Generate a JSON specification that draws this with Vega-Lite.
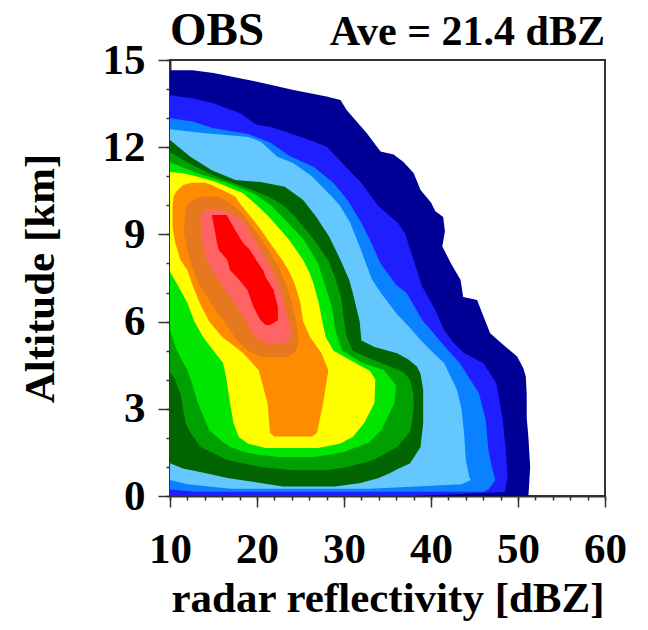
{
  "$schema": "https://vega.github.io/schema/vega-lite/v6.json",
  "width": 435,
  "height": 436,
  "autosize": "none",
  "padding": {"left": 170, "top": 60, "right": 43, "bottom": 134},
  "background": "white",
  "config": {
    "view": {"stroke": "#333333", "strokeWidth": 2},
    "axis": {
      "domainColor": "#333333", "domainWidth": 2,
      "tickColor": "#333333", "tickWidth": 1.5,
      "grid": false, "zindex": 1,
      "labelFont": "Liberation Serif", "labelFontWeight": "bold", "labelFontSize": 43, "labelColor": "black",
      "titleFont": "Liberation Serif", "titleFontWeight": "bold", "titleFontSize": 43, "titleColor": "black",
      "labelOverlap": false, "labelFlush": false
    }
  },
  "resolve": {"axis": {"x": "independent", "y": "independent"}},
  "datasets": {
    "cfad": [
      {"level": "c01", "alt": 0, "lo": 10, "hi": 51.2},
      {"level": "c01", "alt": 0.5, "lo": 10, "hi": 51.3},
      {"level": "c01", "alt": 1.0, "lo": 10, "hi": 51.4},
      {"level": "c01", "alt": 1.5, "lo": 10, "hi": 51.3},
      {"level": "c01", "alt": 2.0, "lo": 10, "hi": 51.2},
      {"level": "c01", "alt": 2.7, "lo": 10, "hi": 51.0},
      {"level": "c01", "alt": 3.5, "lo": 10, "hi": 51.0},
      {"level": "c01", "alt": 4.1, "lo": 10, "hi": 50.9},
      {"level": "c01", "alt": 4.4, "lo": 10, "hi": 50.6},
      {"level": "c01", "alt": 4.8, "lo": 10, "hi": 49.9},
      {"level": "c01", "alt": 5.2, "lo": 10, "hi": 48.3},
      {"level": "c01", "alt": 5.6, "lo": 10, "hi": 46.8},
      {"level": "c01", "alt": 6.2, "lo": 10, "hi": 46.0},
      {"level": "c01", "alt": 6.74, "lo": 10, "hi": 45.3},
      {"level": "c01", "alt": 6.85, "lo": 10, "hi": 43.7},
      {"level": "c01", "alt": 7.43, "lo": 10, "hi": 43.4},
      {"level": "c01", "alt": 8.0, "lo": 10, "hi": 42.3},
      {"level": "c01", "alt": 8.58, "lo": 10, "hi": 41.3},
      {"level": "c01", "alt": 9.1, "lo": 10, "hi": 41.6},
      {"level": "c01", "alt": 9.6, "lo": 10, "hi": 41.4},
      {"level": "c01", "alt": 9.8, "lo": 10, "hi": 40.5},
      {"level": "c01", "alt": 10.1, "lo": 10, "hi": 40.0},
      {"level": "c01", "alt": 10.53, "lo": 10, "hi": 38.8},
      {"level": "c01", "alt": 11.11, "lo": 10, "hi": 38.0},
      {"level": "c01", "alt": 11.5, "lo": 10, "hi": 36.8},
      {"level": "c01", "alt": 11.75, "lo": 10, "hi": 35.7},
      {"level": "c01", "alt": 11.85, "lo": 10, "hi": 34.2},
      {"level": "c01", "alt": 12.49, "lo": 10, "hi": 32.6},
      {"level": "c01", "alt": 13.28, "lo": 10, "hi": 30.3},
      {"level": "c01", "alt": 13.62, "lo": 10, "hi": 29.6},
      {"level": "c01", "alt": 13.74, "lo": 10, "hi": 28.0},
      {"level": "c01", "alt": 13.97, "lo": 10, "hi": 24.2},
      {"level": "c01", "alt": 14.25, "lo": 10, "hi": 20.0},
      {"level": "c01", "alt": 14.55, "lo": 10, "hi": 15.0},
      {"level": "c01", "alt": 14.65, "lo": 10, "hi": 12.6},

      {"level": "c02", "alt": 0, "lo": 10, "hi": 38.0},
      {"level": "c02", "alt": 0.14, "lo": 10, "hi": 48.5},
      {"level": "c02", "alt": 0.65, "lo": 10, "hi": 48.8},
      {"level": "c02", "alt": 1.58, "lo": 10, "hi": 48.6},
      {"level": "c02", "alt": 2.72, "lo": 10, "hi": 48.2},
      {"level": "c02", "alt": 3.89, "lo": 10, "hi": 47.5},
      {"level": "c02", "alt": 4.58, "lo": 10, "hi": 46.0},
      {"level": "c02", "alt": 4.92, "lo": 10, "hi": 43.8},
      {"level": "c02", "alt": 5.3, "lo": 10, "hi": 42.5},
      {"level": "c02", "alt": 5.71, "lo": 10, "hi": 41.5},
      {"level": "c02", "alt": 6.4, "lo": 10, "hi": 40.5},
      {"level": "c02", "alt": 7.2, "lo": 10, "hi": 39.0},
      {"level": "c02", "alt": 8.12, "lo": 10, "hi": 38.0},
      {"level": "c02", "alt": 9.05, "lo": 10, "hi": 37.0},
      {"level": "c02", "alt": 9.39, "lo": 10, "hi": 36.2},
      {"level": "c02", "alt": 9.96, "lo": 10, "hi": 34.0},
      {"level": "c02", "alt": 10.77, "lo": 10, "hi": 32.0},
      {"level": "c02", "alt": 11.33, "lo": 10, "hi": 30.2},
      {"level": "c02", "alt": 12.02, "lo": 10, "hi": 28.0},
      {"level": "c02", "alt": 12.36, "lo": 10, "hi": 25.0},
      {"level": "c02", "alt": 12.7, "lo": 10, "hi": 21.5},
      {"level": "c02", "alt": 12.76, "lo": 10, "hi": 20.0},
      {"level": "c02", "alt": 13.17, "lo": 10, "hi": 18.1},
      {"level": "c02", "alt": 13.52, "lo": 10, "hi": 14.9},
      {"level": "c02", "alt": 13.68, "lo": 10, "hi": 12.6},
      {"level": "c02", "alt": 13.79, "lo": 10, "hi": 10.0},

      {"level": "c03", "alt": 0.15, "lo": 13, "hi": 46.0},
      {"level": "c03", "alt": 0.22, "lo": 10, "hi": 46.6},
      {"level": "c03", "alt": 0.55, "lo": 10, "hi": 47.4},
      {"level": "c03", "alt": 1.0, "lo": 10, "hi": 47.0},
      {"level": "c03", "alt": 1.58, "lo": 10, "hi": 46.6},
      {"level": "c03", "alt": 2.61, "lo": 10, "hi": 46.3},
      {"level": "c03", "alt": 3.54, "lo": 10, "hi": 45.5},
      {"level": "c03", "alt": 4.58, "lo": 10, "hi": 43.3},
      {"level": "c03", "alt": 5.0, "lo": 10, "hi": 42.0},
      {"level": "c03", "alt": 5.6, "lo": 10, "hi": 40.3},
      {"level": "c03", "alt": 6.05, "lo": 10, "hi": 39.0},
      {"level": "c03", "alt": 6.98, "lo": 10, "hi": 37.2},
      {"level": "c03", "alt": 7.26, "lo": 10, "hi": 36.0},
      {"level": "c03", "alt": 8.0, "lo": 10, "hi": 34.2},
      {"level": "c03", "alt": 8.8, "lo": 10, "hi": 33.0},
      {"level": "c03", "alt": 9.39, "lo": 10, "hi": 32.0},
      {"level": "c03", "alt": 10.18, "lo": 10, "hi": 30.4},
      {"level": "c03", "alt": 10.77, "lo": 10, "hi": 28.8},
      {"level": "c03", "alt": 11.33, "lo": 10, "hi": 26.5},
      {"level": "c03", "alt": 11.69, "lo": 10, "hi": 23.8},
      {"level": "c03", "alt": 12.16, "lo": 10, "hi": 21.5},
      {"level": "c03", "alt": 12.45, "lo": 10, "hi": 19.0},
      {"level": "c03", "alt": 12.66, "lo": 10, "hi": 14.9},
      {"level": "c03", "alt": 12.88, "lo": 10, "hi": 12.6},
      {"level": "c03", "alt": 13.0, "lo": 10, "hi": 10.0},

      {"level": "c04", "alt": 0.25, "lo": 17, "hi": 33.0},
      {"level": "c04", "alt": 0.4, "lo": 12, "hi": 43.5},
      {"level": "c04", "alt": 0.55, "lo": 10, "hi": 44.6},
      {"level": "c04", "alt": 0.65, "lo": 10, "hi": 44.4},
      {"level": "c04", "alt": 1.24, "lo": 10, "hi": 44.0},
      {"level": "c04", "alt": 2.17, "lo": 10, "hi": 43.8},
      {"level": "c04", "alt": 3.0, "lo": 10, "hi": 43.5},
      {"level": "c04", "alt": 3.65, "lo": 10, "hi": 43.0},
      {"level": "c04", "alt": 4.58, "lo": 10, "hi": 41.5},
      {"level": "c04", "alt": 5.0, "lo": 10, "hi": 40.0},
      {"level": "c04", "alt": 5.37, "lo": 10, "hi": 38.8},
      {"level": "c04", "alt": 5.81, "lo": 10, "hi": 37.5},
      {"level": "c04", "alt": 6.29, "lo": 10, "hi": 36.0},
      {"level": "c04", "alt": 7.0, "lo": 10, "hi": 34.2},
      {"level": "c04", "alt": 7.46, "lo": 10, "hi": 33.2},
      {"level": "c04", "alt": 8.5, "lo": 10, "hi": 31.9},
      {"level": "c04", "alt": 9.41, "lo": 10, "hi": 30.7},
      {"level": "c04", "alt": 10.0, "lo": 10, "hi": 29.5},
      {"level": "c04", "alt": 10.33, "lo": 10, "hi": 28.5},
      {"level": "c04", "alt": 11.0, "lo": 10, "hi": 26.3},
      {"level": "c04", "alt": 11.45, "lo": 10, "hi": 24.2},
      {"level": "c04", "alt": 11.68, "lo": 10, "hi": 22.3},
      {"level": "c04", "alt": 12.2, "lo": 10, "hi": 20.4},
      {"level": "c04", "alt": 12.35, "lo": 10, "hi": 19.0},
      {"level": "c04", "alt": 12.5, "lo": 10, "hi": 13.5},
      {"level": "c04", "alt": 12.62, "lo": 10, "hi": 10.0},

      {"level": "c05", "alt": 0.33, "lo": 23.0, "hi": 29.0},
      {"level": "c05", "alt": 0.45, "lo": 20.4, "hi": 31.9},
      {"level": "c05", "alt": 0.62, "lo": 16.6, "hi": 34.0},
      {"level": "c05", "alt": 0.79, "lo": 14.0, "hi": 35.3},
      {"level": "c05", "alt": 0.95, "lo": 11.5, "hi": 36.3},
      {"level": "c05", "alt": 1.13, "lo": 10, "hi": 37.6},
      {"level": "c05", "alt": 1.69, "lo": 10, "hi": 38.8},
      {"level": "c05", "alt": 2.51, "lo": 10, "hi": 39.1},
      {"level": "c05", "alt": 3.65, "lo": 10, "hi": 39.1},
      {"level": "c05", "alt": 4.2, "lo": 10, "hi": 38.8},
      {"level": "c05", "alt": 4.45, "lo": 10, "hi": 38.4},
      {"level": "c05", "alt": 4.7, "lo": 10, "hi": 37.4},
      {"level": "c05", "alt": 4.91, "lo": 10, "hi": 36.1},
      {"level": "c05", "alt": 5.13, "lo": 10, "hi": 33.5},
      {"level": "c05", "alt": 5.35, "lo": 10, "hi": 32.0},
      {"level": "c05", "alt": 6.0, "lo": 10, "hi": 31.8},
      {"level": "c05", "alt": 7.0, "lo": 10, "hi": 31.0},
      {"level": "c05", "alt": 7.43, "lo": 10, "hi": 30.6},
      {"level": "c05", "alt": 8.12, "lo": 10, "hi": 29.6},
      {"level": "c05", "alt": 8.92, "lo": 10, "hi": 28.3},
      {"level": "c05", "alt": 9.61, "lo": 10, "hi": 26.8},
      {"level": "c05", "alt": 10.18, "lo": 10, "hi": 25.3},
      {"level": "c05", "alt": 10.64, "lo": 10, "hi": 23.2},
      {"level": "c05", "alt": 10.8, "lo": 10, "hi": 20.4},
      {"level": "c05", "alt": 10.87, "lo": 10, "hi": 17.5},
      {"level": "c05", "alt": 11.21, "lo": 10, "hi": 14.8},
      {"level": "c05", "alt": 11.68, "lo": 10, "hi": 12.3},
      {"level": "c05", "alt": 12.25, "lo": 10, "hi": 10.0},

      {"level": "c06", "alt": 0.89, "lo": 24.2, "hi": 28.1},
      {"level": "c06", "alt": 1.0, "lo": 20.4, "hi": 30.4},
      {"level": "c06", "alt": 1.24, "lo": 16.6, "hi": 33.4},
      {"level": "c06", "alt": 1.69, "lo": 13.5, "hi": 36.1},
      {"level": "c06", "alt": 2.2, "lo": 12.3, "hi": 37.6},
      {"level": "c06", "alt": 2.5, "lo": 11.8, "hi": 37.8},
      {"level": "c06", "alt": 3.0, "lo": 11.5, "hi": 38.0},
      {"level": "c06", "alt": 3.5, "lo": 11.2, "hi": 38.0},
      {"level": "c06", "alt": 4.0, "lo": 10.6, "hi": 37.6},
      {"level": "c06", "alt": 4.27, "lo": 10, "hi": 36.8},
      {"level": "c06", "alt": 4.5, "lo": 10, "hi": 35.0},
      {"level": "c06", "alt": 4.68, "lo": 10, "hi": 33.4},
      {"level": "c06", "alt": 5.0, "lo": 10, "hi": 31.0},
      {"level": "c06", "alt": 5.5, "lo": 10, "hi": 30.3},
      {"level": "c06", "alt": 6.0, "lo": 10, "hi": 30.0},
      {"level": "c06", "alt": 6.8, "lo": 10, "hi": 29.7},
      {"level": "c06", "alt": 7.5, "lo": 10, "hi": 29.0},
      {"level": "c06", "alt": 8.1, "lo": 10, "hi": 28.2},
      {"level": "c06", "alt": 8.8, "lo": 10, "hi": 26.6},
      {"level": "c06", "alt": 9.6, "lo": 10, "hi": 24.4},
      {"level": "c06", "alt": 10.0, "lo": 10, "hi": 23.0},
      {"level": "c06", "alt": 10.3, "lo": 10, "hi": 21.3},
      {"level": "c06", "alt": 10.64, "lo": 10, "hi": 18.5},
      {"level": "c06", "alt": 10.96, "lo": 10, "hi": 15.5},
      {"level": "c06", "alt": 11.39, "lo": 10, "hi": 12.6},
      {"level": "c06", "alt": 11.83, "lo": 10, "hi": 10.0},

      {"level": "c07", "alt": 1.34, "lo": 22.5, "hi": 26.5},
      {"level": "c07", "alt": 1.41, "lo": 20.4, "hi": 28.1},
      {"level": "c07", "alt": 1.51, "lo": 18.5, "hi": 30.0},
      {"level": "c07", "alt": 1.69, "lo": 17.0, "hi": 31.5},
      {"level": "c07", "alt": 1.82, "lo": 16.2, "hi": 32.8},
      {"level": "c07", "alt": 2.27, "lo": 14.5, "hi": 34.3},
      {"level": "c07", "alt": 3.2, "lo": 13.2, "hi": 35.8},
      {"level": "c07", "alt": 3.8, "lo": 12.6, "hi": 36.0},
      {"level": "c07", "alt": 4.33, "lo": 12.0, "hi": 34.6},
      {"level": "c07", "alt": 4.6, "lo": 11.5, "hi": 32.0},
      {"level": "c07", "alt": 5.0, "lo": 10.8, "hi": 29.8},
      {"level": "c07", "alt": 5.71, "lo": 10, "hi": 29.0},
      {"level": "c07", "alt": 6.5, "lo": 10, "hi": 28.6},
      {"level": "c07", "alt": 7.09, "lo": 10, "hi": 28.0},
      {"level": "c07", "alt": 8.02, "lo": 10, "hi": 27.0},
      {"level": "c07", "alt": 8.81, "lo": 10, "hi": 25.4},
      {"level": "c07", "alt": 9.49, "lo": 10, "hi": 23.3},
      {"level": "c07", "alt": 10.0, "lo": 10, "hi": 21.6},
      {"level": "c07", "alt": 10.42, "lo": 10, "hi": 19.6},
      {"level": "c07", "alt": 10.8, "lo": 10, "hi": 16.3},
      {"level": "c07", "alt": 11.1, "lo": 10, "hi": 13.2},
      {"level": "c07", "alt": 11.3, "lo": 10, "hi": 11.5},
      {"level": "c07", "alt": 11.49, "lo": 10, "hi": 10.0},

      {"level": "c08", "alt": 1.65, "lo": 21.0, "hi": 27.0},
      {"level": "c08", "alt": 1.8, "lo": 19.0, "hi": 29.5},
      {"level": "c08", "alt": 2.03, "lo": 17.9, "hi": 31.0},
      {"level": "c08", "alt": 2.5, "lo": 17.3, "hi": 32.3},
      {"level": "c08", "alt": 3.2, "lo": 16.9, "hi": 33.5},
      {"level": "c08", "alt": 4.0, "lo": 16.5, "hi": 33.6},
      {"level": "c08", "alt": 4.3, "lo": 16.3, "hi": 33.0},
      {"level": "c08", "alt": 4.58, "lo": 16.1, "hi": 31.3},
      {"level": "c08", "alt": 5.0, "lo": 15.0, "hi": 28.8},
      {"level": "c08", "alt": 5.47, "lo": 13.8, "hi": 27.9},
      {"level": "c08", "alt": 6.0, "lo": 12.8, "hi": 27.5},
      {"level": "c08", "alt": 6.64, "lo": 12.0, "hi": 27.1},
      {"level": "c08", "alt": 7.3, "lo": 10.8, "hi": 26.5},
      {"level": "c08", "alt": 7.71, "lo": 10, "hi": 26.0},
      {"level": "c08", "alt": 8.12, "lo": 10, "hi": 25.3},
      {"level": "c08", "alt": 8.81, "lo": 10, "hi": 23.7},
      {"level": "c08", "alt": 9.6, "lo": 10, "hi": 21.4},
      {"level": "c08", "alt": 10.0, "lo": 10, "hi": 20.0},
      {"level": "c08", "alt": 10.42, "lo": 10, "hi": 18.4},
      {"level": "c08", "alt": 10.8, "lo": 10, "hi": 15.3},
      {"level": "c08", "alt": 11.0, "lo": 10, "hi": 13.0},
      {"level": "c08", "alt": 11.1, "lo": 10, "hi": 11.5},
      {"level": "c08", "alt": 11.15, "lo": 10, "hi": 10.0},

      {"level": "c09", "alt": 2.05, "lo": 22.0, "hi": 26.3},
      {"level": "c09", "alt": 2.17, "lo": 21.5, "hi": 26.9},
      {"level": "c09", "alt": 3.2, "lo": 21.2, "hi": 27.6},
      {"level": "c09", "alt": 4.33, "lo": 20.2, "hi": 28.2},
      {"level": "c09", "alt": 4.92, "lo": 18.4, "hi": 27.4},
      {"level": "c09", "alt": 5.47, "lo": 16.0, "hi": 26.1},
      {"level": "c09", "alt": 6.0, "lo": 14.5, "hi": 25.3},
      {"level": "c09", "alt": 6.64, "lo": 13.4, "hi": 25.0},
      {"level": "c09", "alt": 7.33, "lo": 12.5, "hi": 24.3},
      {"level": "c09", "alt": 7.77, "lo": 12.0, "hi": 23.6},
      {"level": "c09", "alt": 8.12, "lo": 11.2, "hi": 22.9},
      {"level": "c09", "alt": 8.7, "lo": 10.6, "hi": 21.5},
      {"level": "c09", "alt": 9.22, "lo": 10.3, "hi": 20.3},
      {"level": "c09", "alt": 9.6, "lo": 10.3, "hi": 19.3},
      {"level": "c09", "alt": 10.0, "lo": 10.3, "hi": 18.2},
      {"level": "c09", "alt": 10.3, "lo": 10.4, "hi": 17.5},
      {"level": "c09", "alt": 10.5, "lo": 10.8, "hi": 16.2},
      {"level": "c09", "alt": 10.7, "lo": 11.5, "hi": 14.8},
      {"level": "c09", "alt": 10.78, "lo": 12.5, "hi": 14.0},

      {"level": "c10", "alt": 4.78, "lo": 20.5, "hi": 23.5},
      {"level": "c10", "alt": 5.0, "lo": 19.0, "hi": 24.5},
      {"level": "c10", "alt": 5.37, "lo": 17.7, "hi": 24.8},
      {"level": "c10", "alt": 6.16, "lo": 15.8, "hi": 24.4},
      {"level": "c10", "alt": 6.64, "lo": 14.7, "hi": 24.0},
      {"level": "c10", "alt": 7.3, "lo": 13.3, "hi": 23.3},
      {"level": "c10", "alt": 7.88, "lo": 12.5, "hi": 22.5},
      {"level": "c10", "alt": 8.46, "lo": 12.0, "hi": 21.3},
      {"level": "c10", "alt": 9.05, "lo": 11.6, "hi": 20.0},
      {"level": "c10", "alt": 9.84, "lo": 11.8, "hi": 18.0},
      {"level": "c10", "alt": 10.1, "lo": 12.2, "hi": 16.8},
      {"level": "c10", "alt": 10.3, "lo": 13.5, "hi": 15.5},

      {"level": "c11", "alt": 5.22, "lo": 22.0, "hi": 22.8},
      {"level": "c11", "alt": 5.3, "lo": 20.7, "hi": 23.4},
      {"level": "c11", "alt": 5.47, "lo": 19.9, "hi": 24.0},
      {"level": "c11", "alt": 5.71, "lo": 19.2, "hi": 23.9},
      {"level": "c11", "alt": 6.16, "lo": 18.5, "hi": 23.5},
      {"level": "c11", "alt": 6.5, "lo": 17.7, "hi": 23.2},
      {"level": "c11", "alt": 7.19, "lo": 16.1, "hi": 22.6},
      {"level": "c11", "alt": 7.88, "lo": 14.6, "hi": 21.6},
      {"level": "c11", "alt": 8.12, "lo": 14.2, "hi": 21.0},
      {"level": "c11", "alt": 8.7, "lo": 13.7, "hi": 20.0},
      {"level": "c11", "alt": 8.91, "lo": 13.6, "hi": 19.6},
      {"level": "c11", "alt": 9.49, "lo": 13.5, "hi": 18.4},
      {"level": "c11", "alt": 9.6, "lo": 13.5, "hi": 17.6},
      {"level": "c11", "alt": 9.77, "lo": 13.8, "hi": 16.6},
      {"level": "c11", "alt": 9.87, "lo": 14.2, "hi": 15.6},

      {"level": "c12", "alt": 5.88, "lo": 21.0, "hi": 21.5},
      {"level": "c12", "alt": 6.05, "lo": 20.4, "hi": 22.4},
      {"level": "c12", "alt": 6.5, "lo": 19.6, "hi": 22.4},
      {"level": "c12", "alt": 7.09, "lo": 18.9, "hi": 21.9},
      {"level": "c12", "alt": 7.53, "lo": 17.7, "hi": 21.0},
      {"level": "c12", "alt": 7.77, "lo": 16.9, "hi": 20.7},
      {"level": "c12", "alt": 8.12, "lo": 16.6, "hi": 19.9},
      {"level": "c12", "alt": 8.46, "lo": 15.6, "hi": 19.2},
      {"level": "c12", "alt": 8.7, "lo": 15.4, "hi": 18.4},
      {"level": "c12", "alt": 9.05, "lo": 15.2, "hi": 17.7},
      {"level": "c12", "alt": 9.67, "lo": 14.8, "hi": 16.5}
    ]
  },
  "layer": [
    {
      "data": {"name": "cfad"},
      "mark": {"type": "area", "orient": "horizontal", "interpolate": "linear"},
      "encoding": {
        "y": {
          "field": "alt", "type": "quantitative",
          "scale": {"domain": [0, 15], "nice": false, "zero": false},
          "axis": {
            "orient": "left",
            "title": "Altitude [km]",
            "values": [0, 3, 6, 9, 12, 15],
            "tickSize": 12,
            "labelPadding": 13,
            "titlePadding": 40
          }
        },
        "x": {
          "field": "lo", "type": "quantitative", "stack": null,
          "scale": {"domain": [10, 60], "nice": false, "zero": false},
          "axis": {
            "orient": "bottom",
            "title": "radar reflectivity [dBZ]",
            "values": [10, 20, 30, 40, 50, 60],
            "tickSize": 11,
            "labelPadding": 21,
            "titlePadding": 6
          }
        },
        "x2": {"field": "hi"},
        "color": {
          "field": "level", "type": "ordinal",
          "scale": {
            "domain": ["c01", "c02", "c03", "c04", "c05", "c06", "c07", "c08", "c09", "c10", "c11", "c12"],
            "range": ["#000096", "#1E1EFF", "#0A82FF", "#64C8FF", "#006400", "#00A000", "#00E600", "#FFFF00", "#FF8C00", "#E6781E", "#FF6464", "#FF0000"]
          },
          "legend": null
        }
      }
    },
    {
      "data": {"values": [{}]},
      "mark": {"type": "text", "align": "left", "baseline": "alphabetic", "dy": -15, "font": "Liberation Serif", "fontWeight": "bold", "fontSize": 47, "color": "black"},
      "encoding": {
        "x": {
          "datum": 10, "type": "quantitative",
          "scale": {"domain": [10, 60], "nice": false, "zero": false},
          "axis": {"orient": "bottom", "values": [10, 12, 14, 16, 18, 20, 22, 24, 26, 28, 30, 32, 34, 36, 38, 40, 42, 44, 46, 48, 50, 52, 54, 56, 58, 60], "tickSize": 4, "labels": false, "domain": false, "title": null}
        },
        "y": {
          "datum": 15, "type": "quantitative",
          "scale": {"domain": [0, 15], "nice": false, "zero": false},
          "axis": {"orient": "left", "values": [0, 1, 2, 3, 4, 5, 6, 7, 8, 9, 10, 11, 12, 13, 14, 15], "tickSize": 4, "labels": false, "domain": false, "title": null}
        },
        "text": {"value": "OBS"}
      }
    },
    {
      "data": {"values": [{}]},
      "mark": {"type": "text", "align": "right", "baseline": "alphabetic", "dy": -15, "font": "Liberation Serif", "fontWeight": "bold", "fontSize": 42, "color": "black"},
      "encoding": {
        "x": {"datum": 60, "type": "quantitative", "scale": {"domain": [10, 60], "nice": false, "zero": false}, "axis": null},
        "y": {"datum": 15, "type": "quantitative", "scale": {"domain": [0, 15], "nice": false, "zero": false}, "axis": null},
        "text": {"value": "Ave = 21.4 dBZ"}
      }
    }
  ]
}
